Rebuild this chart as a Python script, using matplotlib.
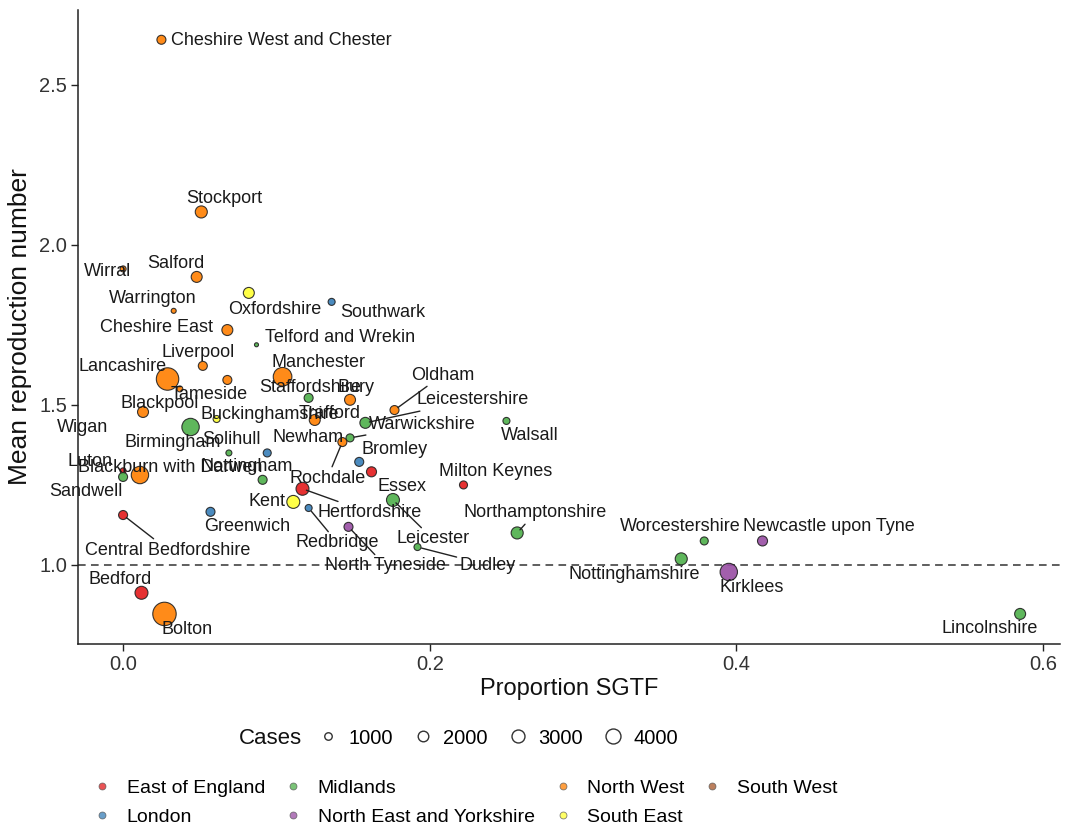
import matplotlib
matplotlib.use("Agg")
import matplotlib.pyplot as plt
from matplotlib.lines import Line2D

plt.rcParams['font.family'] = ['Liberation Sans', 'DejaVu Sans']

# ---- data -------------------------------------------------------------
areas = [
    "Cheshire West and Chester", "Stockport", "Wirral", "Salford", "Warrington",
    "Oxfordshire", "Southwark", "Cheshire East", "Telford and Wrekin", "Liverpool",
    "Lancashire", "Manchester", "Tameside", "Blackpool", "Wigan",
    "Staffordshire", "Bury", "Trafford", "Oldham", "Leicestershire",
    "Warwickshire", "Walsall", "Birmingham", "Buckinghamshire", "Solihull",
    "Newham", "Bromley", "Rochdale", "Essex", "Milton Keynes",
    "Luton", "Blackburn with Darwen", "Sandwell", "Nottingham", "Kent",
    "Hertfordshire", "Redbridge", "Greenwich", "Leicester", "Central Bedfordshire",
    "North Tyneside", "Dudley", "Northamptonshire", "Worcestershire", "Newcastle upon Tyne",
    "Nottinghamshire", "Kirklees", "Bedford", "Bolton", "Lincolnshire",
]
region = [
    "North West", "North West", "North West", "North West", "North West",
    "South East", "London", "North West", "Midlands", "North West",
    "North West", "North West", "North West", "North West", "North West",
    "Midlands", "North West", "North West", "North West", "Midlands",
    "Midlands", "Midlands", "Midlands", "South East", "Midlands",
    "London", "London", "North West", "East of England", "East of England",
    "East of England", "North West", "Midlands", "Midlands", "South East",
    "East of England", "London", "London", "Midlands", "East of England",
    "North East and Yorkshire", "Midlands", "Midlands", "Midlands", "North East and Yorkshire",
    "Midlands", "North East and Yorkshire", "East of England", "North West", "Midlands",
]
sgtf = [
    0.025, 0.051, 0.000, 0.048, 0.033,
    0.082, 0.136, 0.068, 0.087, 0.052,
    0.029, 0.104, 0.068, 0.037, 0.013,
    0.121, 0.148, 0.125, 0.177, 0.158,
    0.148, 0.250, 0.044, 0.061, 0.069,
    0.094, 0.154, 0.143, 0.162, 0.222,
    0.000, 0.011, 0.000, 0.091, 0.111,
    0.117, 0.121, 0.057, 0.176, 0.000,
    0.147, 0.192, 0.257, 0.379, 0.417,
    0.364, 0.395, 0.012, 0.027, 0.585,
]
r_mean = [
    2.641, 2.103, 1.925, 1.900, 1.794,
    1.850, 1.822, 1.734, 1.688, 1.622,
    1.581, 1.588, 1.578, 1.550, 1.478,
    1.522, 1.516, 1.453, 1.484, 1.444,
    1.397, 1.450, 1.431, 1.456, 1.350,
    1.350, 1.322, 1.384, 1.291, 1.250,
    1.294, 1.281, 1.275, 1.266, 1.197,
    1.238, 1.178, 1.166, 1.203, 1.156,
    1.119, 1.056, 1.100, 1.075, 1.075,
    1.019, 0.978, 0.913, 0.847, 0.847,
]
cases = [
    1450, 2600, 650, 2150, 450,
    2150, 880, 2150, 290, 1450,
    9000, 6200, 1450, 640, 2150,
    1450, 2150, 2150, 1450, 2150,
    1150, 880, 5400, 880, 640,
    1150, 1450, 1450, 1800, 1150,
    640, 5400, 1450, 1450, 3000,
    3000, 880, 1450, 3000, 1450,
    1450, 880, 2600, 1150, 1800,
    2600, 5400, 3000, 9800, 2150,
]

region_order = ["East of England", "London", "Midlands", "North East and Yorkshire",
                "North West", "South East", "South West"]
case_breaks = [1000, 2000, 3000, 4000]

# ---- styling ----------------------------------------------------------
DPI = 100
region_colors = {
    "East of England": "#E41A1C",
    "London": "#377EB8",
    "Midlands": "#4DAF4A",
    "North East and Yorkshire": "#984EA3",
    "North West": "#FF7F00",
    "South East": "#FFFF33",
    "South West": "#A65628",
}
AREA_PER_CASE = 0.029  # marker area (pt^2) per case

# label placement: offset from the point in pixels (right, down)
label_offset = {
    "Cheshire West and Chester": (120, 1), "Stockport": (23, -13), "Wirral": (-16, 3),
    "Salford": (-21, -13), "Warrington": (-21, -12), "Oxfordshire": (26, 17),
    "Southwark": (51, 11), "Cheshire East": (-71, -3), "Telford and Wrekin": (84, -7),
    "Liverpool": (-5, -13), "Lancashire": (-45, -13), "Manchester": (36, -14),
    "Tameside": (-18, 15), "Blackpool": (-20, 15), "Wigan": (-60, 16),
    "Staffordshire": (2, -10), "Bury": (6, -12), "Trafford": (15, -6),
    "Oldham": (48, -35), "Leicestershire": (107, -23), "Warwickshire": (72, -13),
    "Walsall": (23, 15), "Birmingham": (-18, 15), "Buckinghamshire": (53, -5),
    "Solihull": (3, -13), "Newham": (41, -15), "Bromley": (35, -12),
    "Rochdale": (-15, 36), "Essex": (31, 15), "Milton Keynes": (32, -13),
    "Luton": (-33, -9), "Blackburn with Darwen": (30, -8), "Sandwell": (-37, 15),
    "Nottingham": (-16, -13), "Kent": (-26, 0), "Hertfordshire": (67, 24),
    "Redbridge": (29, 35), "Greenwich": (37, 15), "Leicester": (40, 39),
    "Central Bedfordshire": (45, 35), "North Tyneside": (37, 39), "Dudley": (70, 18),
    "Northamptonshire": (18, -20), "Worcestershire": (-24, -14),
    "Newcastle upon Tyne": (66, -14), "Nottinghamshire": (-47, 16), "Kirklees": (23, 16),
    "Bedford": (-21, -13), "Bolton": (23, 16), "Lincolnshire": (-30, 15),
}
with_leader = {"Oldham", "Leicestershire", "Warwickshire", "Rochdale", "Hertfordshire",
               "Redbridge", "Leicester", "Central Bedfordshire", "North Tyneside",
               "Dudley", "Northamptonshire"}

# ---- figure -----------------------------------------------------------
W, H = 1066, 825
fig = plt.figure(figsize=(W / DPI, H / DPI), dpi=DPI)
ax = fig.add_axes([78 / W, 1 - 644 / H, (1060 - 78) / W, (644 - 10) / H])

ax.axhline(1.0, color="#333333", lw=1.1, ls=(0, (5, 3.5)), zorder=1)

ax.scatter(sgtf, r_mean,
           s=[AREA_PER_CASE * c for c in cases],
           c=[region_colors[r] for r in region],
           edgecolors="#222222", linewidths=0.8, alpha=0.9, zorder=3)

for name, x, y in zip(areas, sgtf, r_mean):
    dx, dy = label_offset[name]
    kw = {}
    if name in with_leader:
        kw["arrowprops"] = dict(arrowstyle="-", color="#222222", lw=1.0,
                                shrinkA=0, shrinkB=3)
    ax.annotate(name, (x, y), xytext=(dx * 72 / DPI, -dy * 72 / DPI),
                textcoords="offset points", ha="center", va="center",
                fontsize=13, color="#1a1a1a", zorder=4, **kw)

ax.set_xlim(-0.0294, 0.611)
ax.set_ylim(0.753, 2.734)
ax.set_xticks([0.0, 0.2, 0.4, 0.6])
ax.set_xticklabels(["0.0", "0.2", "0.4", "0.6"])
ax.set_yticks([1.0, 1.5, 2.0, 2.5])
ax.set_yticklabels(["1.0", "1.5", "2.0", "2.5"])
for side in ("top", "right"):
    ax.spines[side].set_visible(False)
for side in ("left", "bottom"):
    ax.spines[side].set_linewidth(1.1)
    ax.spines[side].set_color("#222222")
ax.tick_params(length=5, width=1.0, color="#222222", labelsize=14.5,
               labelcolor="#333333", pad=3)
ax.set_xlabel("Proportion SGTF", fontsize=17, color="#111111", labelpad=3)
ax.set_ylabel("Mean reproduction number", fontsize=19, color="#111111", labelpad=5)

# size legend
fig.text(270 / W, 1 - 738 / H, "Cases", fontsize=16, ha="center", va="center",
         color="#111111")
size_handles = [Line2D([], [], ls="none", marker="o",
                       markersize=(AREA_PER_CASE * b) ** 0.5,
                       markerfacecolor="white", markeredgecolor="#333333",
                       markeredgewidth=1.0) for b in case_breaks]
fig.legend(size_handles, [str(b) for b in case_breaks], loc="center",
           bbox_to_anchor=(497 / W, 1 - 738 / H), ncol=4, frameon=False,
           fontsize=14.5, handletextpad=0.4, columnspacing=0.9, handlelength=1.2)

# region legend
region_handles = [Line2D([], [], ls="none", marker="o", markersize=5,
                         markerfacecolor=region_colors[r], markeredgecolor="#555555",
                         markeredgewidth=0.6, alpha=0.75) for r in region_order]
fig.legend(region_handles, region_order, loc="upper left",
           bbox_to_anchor=(73 / W, 1 - 762 / H), ncol=4, frameon=False,
           fontsize=14, handletextpad=0.66, columnspacing=0.84, handlelength=1.2,
           labelspacing=0.56)

fig.savefig("out.png", dpi=DPI)
